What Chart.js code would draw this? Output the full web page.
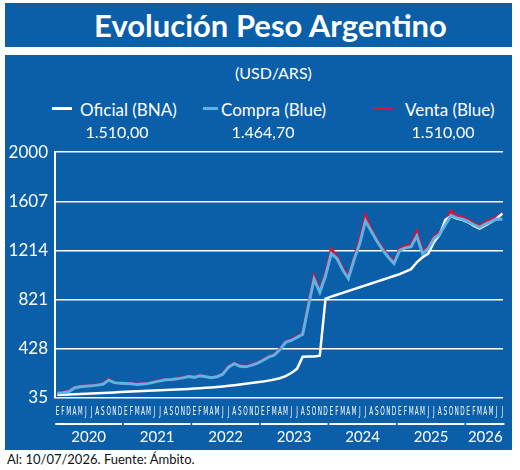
<!DOCTYPE html>
<html lang="es">
<head>
<meta charset="utf-8">
<title>Evolución Peso Argentino</title>
<script src="https://cdn.jsdelivr.net/npm/chart.js@4.4.1/dist/chart.umd.min.js"></script>
<style>
  body { margin: 0; width: 520px; height: 470px; background: #fff; position: relative; font-family: Lato, "Open Sans", sans-serif; overflow: hidden; }
  .box { position: absolute; background: #0b5ea8; }
  #titlebar { left: 5px; top: 3px; width: 507px; height: 44px; }
  #titlebar h1 { margin: 0; padding-left: 24px; color: #fff; font-size: 31px; font-weight: 700; text-align: center; line-height: 44px; }
  #panel { left: 5px; top: 55px; width: 507px; height: 395px; }
  #chart { position: absolute; left: 0; top: 80px; }
  .txt { position: absolute; color: #fff; white-space: nowrap; }
  .sub { font-size: 16px; left: 235px; top: 63px; }
  .leg { font-size: 17px; top: 99px; }
  .val { font-size: 16px; top: 122px; transform: translateX(-50%); }
  .swatch { position: absolute; height: 3px; top: 107px; }
  #foot { position: absolute; left: 7px; top: 451px; font-size: 13px; color: #111; }
</style>
</head>
<body>
<div id="titlebar" class="box"><h1>Evolución Peso Argentino</h1></div>
<div id="panel" class="box"><canvas id="chart" width="507" height="315"></canvas></div>

<div class="txt sub">(USD/ARS)</div>

<div class="swatch" style="left:52px;width:20px;background:#fff"></div>
<div class="txt leg" style="left:80px">Oficial (BNA)</div>
<div class="swatch" style="left:203px;width:15px;background:#5cb3e8"></div>
<div class="txt leg" style="left:221px">Compra (Blue)</div>
<div class="swatch" style="left:373px;width:20px;background:#d2163c"></div>
<div class="txt leg" style="left:405px">Venta (Blue)</div>

<div class="txt val" style="left:117px">1.510,00</div>
<div class="txt val" style="left:263px">1.464,70</div>
<div class="txt val" style="left:443px">1.510,00</div>

<div id="foot">Al: 10/07/2026. Fuente: Ámbito.</div>

<script>
// Eje X: meses y años
const years = ['2020', '2021', '2022', '2023', '2024', '2025', '2026'];
const monthInitials = ['E', 'F', 'M', 'A', 'M', 'J', 'J', 'A', 'S', 'O', 'N', 'D'];
const monthLabels = [...years.slice(0, 6).flatMap(() => monthInitials), ...monthInitials.slice(0, 7)];

// Eje Y
const yTicks = [35, 428, 821, 1214, 1607, 2000];

// Series mensuales (ARS por USD)
const oficial = [
  60, 61, 63, 65, 67, 69, 71, 73, 75, 77, 79, 82,
  84, 86, 88, 90, 92, 94, 96, 98, 100, 102, 104, 107,
  110, 113, 116, 119, 123, 127, 132, 137, 143, 149, 155, 160,
  166, 174, 183, 193, 210, 235, 268, 365, 366, 367, 373, 829,
  845, 860, 875, 890, 905, 920, 935, 950, 965, 980, 995, 1010,
  1025, 1045, 1065, 1120, 1160, 1190, 1280, 1340, 1460, 1490, 1470, 1460,
  1440, 1410, 1390, 1415, 1440, 1470, 1510
];
const compra = [
  74, 78, 85, 115, 125, 128, 132, 138, 145, 178, 158, 152,
  150, 148, 142, 146, 152, 162, 172, 180, 182, 188, 196, 206,
  200, 212, 205, 198, 205, 225, 282, 310, 288, 284, 296, 312,
  335, 362, 378, 420, 480, 495, 520, 545, 770, 985, 880, 1010,
  1190, 1150, 1060, 990, 1140, 1270, 1450, 1370, 1290, 1220, 1160, 1110,
  1215, 1235, 1245, 1330, 1190, 1230, 1310, 1345, 1420, 1495, 1475, 1465,
  1445, 1420, 1400, 1425, 1445, 1465, 1464.7
];
const venta = [
  77, 81, 88, 119, 129, 131, 135, 141, 149, 184, 161, 155,
  153, 151, 145, 149, 155, 165, 175, 183, 185, 191, 199, 210,
  203, 215, 208, 201, 208, 229, 288, 316, 292, 288, 300, 316,
  340, 366, 382, 425, 486, 500, 526, 552, 785, 1010, 892, 1030,
  1225, 1165, 1075, 1002, 1155, 1300, 1490, 1385, 1300, 1232, 1172, 1122,
  1228, 1250, 1260, 1365, 1202, 1242, 1322, 1358, 1434, 1530, 1490, 1478,
  1460, 1432, 1412, 1440, 1460, 1482, 1510
];

const toPoints = (arr) => arr.map((v, i) => ({ x: i, y: v }));
const lastMonth = monthLabels.length - 1;

// Subrayado de cada año e iniciales de meses (angostas)
const monthAxisDeco = {
  id: 'monthAxisDeco',
  afterDraw(chart) {
    const xs = chart.scales.x;
    const bottom = chart.chartArea.bottom;
    const ctx = chart.ctx;
    ctx.save();
    ctx.fillStyle = '#ffffff';
    years.forEach((yr, i) => {
      const start = i * 12;
      const end = Math.min(i * 12 + 11, lastMonth);
      const x1 = xs.getPixelForValue(start - 0.35);
      const x2 = xs.getPixelForValue(end + 0.35);
      ctx.fillRect(x1, bottom + 25, x2 - x1, 2);
    });
    ctx.font = '12px "DejaVu Sans", sans-serif';
    ctx.textAlign = 'center';
    ctx.textBaseline = 'middle';
    monthLabels.forEach((m, i) => {
      ctx.save();
      ctx.translate(xs.getPixelForValue(i), bottom + 14);
      ctx.scale(0.48, 1);
      ctx.fillText(m, 0, 0);
      ctx.restore();
    });
    ctx.restore();
  }
};

new Chart(document.getElementById('chart'), {
  type: 'line',
  data: {
    datasets: [
      { label: 'Venta (Blue)', data: toPoints(venta), borderColor: '#d2163c', borderWidth: 3, order: 3 },
      { label: 'Oficial (BNA)', data: toPoints(oficial), borderColor: '#ffffff', borderWidth: 2.5, order: 2 },
      { label: 'Compra (Blue)', data: toPoints(compra), borderColor: '#5cb3e8', borderWidth: 3, order: 1 }
    ]
  },
  options: {
    responsive: false,
    animation: false,
    layout: { padding: { top: 13, right: 9, left: 0, bottom: 0 } },
    elements: { point: { radius: 0 }, line: { tension: 0 } },
    plugins: { legend: { display: false }, tooltip: { enabled: false } },
    scales: {
      x: {
        type: 'linear',
        position: 'bottom',
        min: -0.4,
        max: lastMonth + 0.1,
        afterBuildTicks: (scale) => { scale.ticks = monthLabels.map((_, i) => ({ value: i })); },
        afterFit: (scale) => { scale.height = 20; },
        grid: { display: false },
        border: { display: false },
        ticks: { display: false }
      },
      years: {
        type: 'linear',
        position: 'bottom',
        min: -0.4,
        max: lastMonth + 0.1,
        afterBuildTicks: (scale) => {
          scale.ticks = years.map((_, i) => ({ value: (i * 12 + Math.min(i * 12 + 11, lastMonth)) / 2 }));
        },
        afterFit: (scale) => { scale.height = 32; },
        grid: { display: false },
        border: { display: false },
        ticks: {
          autoSkip: false,
          maxRotation: 0,
          padding: 2,
          color: '#fff',
          font: { family: 'Lato, sans-serif', size: 15 },
          callback: (v, i) => years[i]
        }
      },
      y: {
        min: 35,
        max: 2000,
        afterBuildTicks: (scale) => { scale.ticks = yTicks.map(v => ({ value: v })); },
        afterFit: (scale) => { scale.width = 50; },
        grid: { color: '#fff', lineWidth: 1.5, drawTicks: false },
        border: { color: '#fff', width: 2 },
        ticks: {
          padding: 7,
          color: '#fff',
          font: { family: 'Lato, sans-serif', size: 17 },
          callback: (v) => v
        }
      }
    }
  },
  plugins: [monthAxisDeco]
});
</script>
</body>
</html>
